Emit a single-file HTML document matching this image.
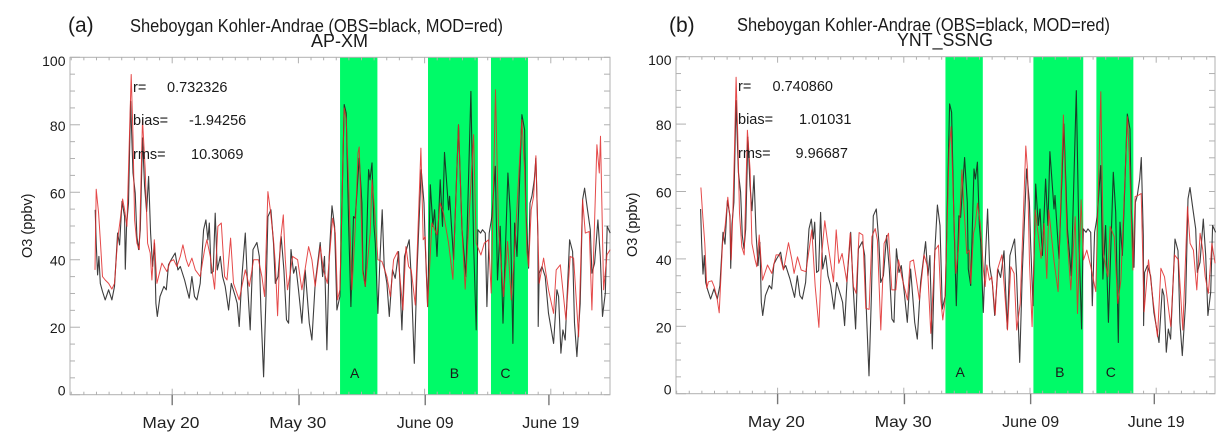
<!DOCTYPE html>
<html lang="en">
<head>
<meta charset="utf-8">
<title>Sheboygan Kohler-Andrae ozone comparison</title>
<style>
html,body{margin:0;padding:0;background:#fff;}
#figure{display:block;width:1228px;height:444px;font-family:"Liberation Sans",sans-serif;fill:#1a1a1a;filter:blur(0.3px);}
.date{font-size:16px;fill:#222;}
</style>
</head>
<body>
<svg id="figure" xmlns="http://www.w3.org/2000/svg" width="1228" height="444" viewBox="0 0 1228 444">
  <rect x="0" y="0" width="1228" height="444" fill="#ffffff"/>
  <g id="panel-a"></g>
  <g id="panel-b"></g>

  <text x="68" y="32" font-size="21">(a)</text>
  <text x="130" y="32" font-size="18" textLength="373" lengthAdjust="spacingAndGlyphs">Sheboygan Kohler-Andrae (OBS=black, MOD=red)</text>
  <text x="311" y="47" font-size="18" textLength="57" lengthAdjust="spacingAndGlyphs">AP-XM</text>
  <text transform="translate(32,258) rotate(-90)" font-size="14.5">O3 (ppbv)</text>
  <text x="133" y="92" font-size="14.5">r=</text>
  <text x="167" y="92" font-size="14.5">0.732326</text>
  <text x="133" y="125" font-size="14.5">bias=</text>
  <text x="189" y="125" font-size="14.5">-1.94256</text>
  <text x="133" y="159" font-size="14.5">rms=</text>
  <text x="191" y="159" font-size="14.5">10.3069</text>

  <text x="669" y="32" font-size="21">(b)</text>
  <text x="737" y="31" font-size="18" textLength="373" lengthAdjust="spacingAndGlyphs">Sheboygan Kohler-Andrae (OBS=black, MOD=red)</text>
  <text x="897" y="46" font-size="18" textLength="96" lengthAdjust="spacingAndGlyphs">YNT_SSNG</text>
  <text transform="translate(637,257) rotate(-90)" font-size="14.5">O3 (ppbv)</text>
  <text x="738" y="91" font-size="14.5">r=</text>
  <text x="772.5" y="91" font-size="14.5">0.740860</text>
  <text x="738" y="124" font-size="14.5">bias=</text>
  <text x="799" y="124" font-size="14.5">1.01031</text>
  <text x="738" y="158" font-size="14.5">rms=</text>
  <text x="795.5" y="158" font-size="14.5">9.96687</text>
</svg>
<script>
// Days are counted from May 20.
const yTickValues = [0, 20, 40, 60, 80, 100];
const dateTickDays = [0, 10.05, 20.05, 29.85];
const dateLabelDays = [-0.1, 9.95, 20.05, 30];
const dateLabels = ['May 20', 'May 30', 'June 09', 'June 19'];
const bandNames = ['A', 'B', 'C'];
const bandStartDays = [13.3, 20.27, 25.26];
const bandEndDays = [16.26, 24.22, 28.19];

const obsDays = [-6.10,-6.02,-5.91,-5.81,-5.70,-5.52,-5.31,-5.04,-4.78,-4.57,-4.33,-4.17,-3.98,-3.77,-3.72,-3.61,-3.46,-3.30,-3.11,-2.93,-2.80,-2.66,-2.53,-2.35,-2.19,-2.03,-1.87,-1.71,-1.55,-1.40,-1.29,-1.18,-0.97,-0.66,-0.47,-0.29,-0.08,0.24,0.45,0.64,0.98,1.17,1.35,1.56,1.77,1.96,2.22,2.49,2.67,2.83,2.94,3.09,3.25,3.41,3.57,3.81,3.99,4.20,4.47,4.68,5.00,5.15,5.31,5.52,5.79,5.97,6.18,6.40,6.71,6.90,7.03,7.24,7.43,7.58,7.82,8.03,8.17,8.38,8.64,8.85,9.06,9.22,9.41,9.62,9.80,10.01,10.28,10.54,10.86,11.07,11.33,11.73,11.92,12.07,12.26,12.44,12.66,12.87,13.05,13.29,13.63,13.79,13.98,14.16,14.37,14.50,14.82,15.03,15.11,15.30,15.56,15.67,15.83,15.98,16.09,16.30,16.43,16.64,16.80,17.01,17.20,17.46,17.67,17.94,18.20,18.41,18.78,18.94,19.18,19.39,19.73,19.95,20.05,20.24,20.45,20.66,20.79,20.98,21.24,21.42,21.58,21.90,21.98,22.30,22.69,22.96,23.27,23.67,23.88,24.09,24.22,24.44,24.59,24.81,24.94,25.12,25.33,25.60,25.78,25.99,26.21,26.60,26.79,27.00,27.13,27.32,27.71,27.92,28.03,28.24,28.35,28.50,28.69,28.82,28.98,29.00,29.08,29.30,29.56,29.82,30.22,30.48,30.62,30.80,30.96,31.14,31.49,31.73,31.88,32.07,32.33,32.52,32.68,32.91,33.13,33.26,33.47,33.73,33.92,34.10,34.32,34.47,34.71];
const obsValues = [54.8,44.9,35.5,41.0,33.0,30.6,28.1,31.1,28.1,32.1,47.9,44.4,57.3,52.8,37.2,50.4,56.8,87.0,65.7,59.8,46.9,43.0,48.9,76.1,61.7,54.3,64.7,47.9,38.0,44.9,27.1,23.2,29.1,32.1,31.1,38.5,40.0,42.0,37.0,38.0,34.0,31.1,28.6,35.0,29.1,28.1,33.0,48.9,51.8,45.9,50.9,36.0,36.5,53.8,37.0,41.0,35.0,32.1,25.1,33.0,29.1,27.1,20.2,35.0,47.9,33.0,19.2,43.0,45.1,41.0,25.1,5.3,29.1,52.8,54.8,44.9,33.0,35.0,46.9,37.0,22.2,21.2,43.0,36.0,38.0,31.1,21.2,37.0,21.2,16.2,33.0,45.1,35.0,41.0,13.3,41.0,56.0,49.9,25.1,29.1,86.0,83.5,50.9,26.1,52.8,52.3,70.1,56.8,37.0,32.1,66.7,63.7,68.7,50.4,44.9,24.1,37.0,54.8,38.0,33.0,23.2,37.0,34.5,42.4,19.2,41.0,45.9,35.0,9.3,36.0,66.7,56.8,44.9,26.1,62.2,49.9,54.8,41.0,63.7,49.9,71.8,54.8,58.8,40.0,80.0,48.9,35.0,89.9,44.9,19.2,48.9,47.9,48.9,47.9,26.1,47.9,52.8,67.7,34.0,49.9,21.2,65.7,53.8,15.2,50.9,41.0,83.0,78.5,54.8,37.5,56.8,58.8,63.7,70.1,46.9,20.2,36.0,38.0,35.0,24.1,15.2,31.1,29.1,12.3,19.2,16.2,45.9,42.4,21.2,11.3,27.1,57.8,61.2,54.8,48.9,36.0,39.0,51.8,41.0,23.2,30.1,49.9,47.9];

const modADays = [-6.12,-6.02,-5.83,-5.70,-5.52,-5.31,-5.04,-4.78,-4.57,-4.33,-4.12,-3.93,-3.77,-3.59,-3.46,-3.25,-3.11,-2.98,-2.80,-2.61,-2.35,-2.14,-1.95,-1.74,-1.61,-1.42,-1.21,-0.82,-0.42,-0.15,0.11,0.37,0.64,0.85,1.11,1.30,1.56,1.83,2.22,2.57,2.75,3.02,3.36,3.62,3.89,4.15,4.34,4.63,4.86,5.31,5.52,5.79,6.11,6.45,6.84,7.11,7.32,7.58,7.77,8.03,8.17,8.35,8.56,8.80,8.96,9.14,9.35,9.54,9.94,10.28,10.81,11.07,11.33,11.73,11.99,12.29,12.71,12.92,13.10,13.29,13.63,13.79,13.98,14.24,14.50,14.72,14.82,14.98,15.11,15.30,15.69,15.83,16.04,16.30,16.62,17.01,17.28,17.54,17.86,18.28,18.52,18.73,18.94,19.26,19.71,19.89,20.05,20.24,20.58,20.98,21.24,21.50,21.90,22.24,22.69,22.96,23.22,23.88,24.09,24.46,24.73,25.07,25.28,25.62,25.86,26.26,26.58,26.87,27.10,27.71,27.92,28.11,28.24,28.45,28.64,28.82,29.08,29.43,29.82,30.22,30.43,30.75,31.20,31.54,31.81,32.20,32.52,32.73,33.05,33.26,33.65,33.84,33.94,34.18,34.45,34.71];
const modAValues = [37.0,60.9,53.8,45.9,35.0,34.0,33.0,31.3,33.0,45.9,51.8,58.0,54.8,49.9,66.7,94.9,76.6,51.8,44.9,43.0,81.5,66.7,44.9,42.0,34.0,45.9,33.0,39.0,36.5,39.5,40.0,38.0,41.0,44.4,40.0,38.0,40.5,37.0,35.0,43.0,45.9,41.0,31.3,49.9,50.9,35.0,34.0,46.4,33.0,28.1,32.1,37.0,32.1,40.0,40.0,35.0,29.1,60.2,54.8,45.9,39.0,23.4,44.9,53.3,40.0,31.1,36.0,41.0,40.0,31.1,43.9,40.0,32.1,43.9,37.0,33.0,52.3,47.9,28.1,31.1,85.0,81.5,62.7,31.1,48.9,71.6,73.4,53.8,36.0,32.1,47.9,63.7,54.8,40.0,39.5,35.0,29.1,40.0,42.4,25.1,43.9,38.0,37.0,26.6,73.1,45.9,46.9,26.1,50.9,47.4,56.8,53.8,44.9,34.2,80.0,48.9,31.3,77.1,44.9,41.4,44.9,45.9,30.1,90.4,48.9,29.1,45.4,28.1,41.0,81.5,66.7,42.4,38.0,54.8,58.8,70.8,33.0,40.5,31.1,24.1,37.0,38.5,22.2,41.0,40.5,17.2,57.8,47.9,48.4,25.1,74.1,65.7,76.6,31.1,41.5,43.0];

const modBDays = [-6.08,-5.93,-5.77,-5.61,-5.48,-5.21,-5.03,-4.82,-4.63,-4.37,-4.16,-3.95,-3.79,-3.68,-3.55,-3.42,-3.29,-3.15,-3.02,-2.84,-2.65,-2.39,-2.18,-2.04,-1.78,-1.65,-1.46,-1.20,-0.80,-0.46,-0.12,0.15,0.47,0.86,1.13,1.31,1.58,1.87,2.24,2.53,2.71,2.98,3.27,3.50,3.74,3.98,4.43,4.64,4.85,5.11,5.48,5.75,6.01,6.22,6.46,6.75,6.99,7.25,7.47,7.73,7.91,8.18,8.44,8.79,9.05,9.37,9.58,9.84,10.29,10.50,10.77,11.24,11.61,11.88,12.14,12.48,12.75,12.93,13.09,13.25,13.41,13.59,13.75,13.94,14.12,14.33,14.60,14.78,14.99,15.20,15.31,15.52,15.65,15.84,16.05,16.18,16.31,16.45,16.58,16.79,16.97,17.24,17.42,17.77,18.22,18.48,18.74,18.95,19.22,19.67,19.80,19.96,20.17,20.41,20.88,21.12,21.33,21.49,21.91,22.23,22.65,22.92,23.23,23.58,23.76,24.05,24.24,24.50,24.82,25.21,25.61,25.82,26.17,26.35,26.67,26.96,27.20,27.72,27.88,28.15,28.33,28.60,28.81,29.04,29.39,29.78,30.10,30.37,30.66,31.16,31.45,31.77,32.11,32.48,32.69,32.95,33.22,33.48,33.69,33.88,34.14,34.41,34.67];
const modBValues = [61.2,52.5,44.6,31.3,33.2,33.5,31.8,28.8,24.0,44.6,49.6,58.3,52.5,39.7,53.5,71.3,93.9,76.3,53.5,43.6,41.2,78.2,66.4,44.6,39.7,37.7,47.1,33.7,38.2,35.7,41.2,41.2,36.7,44.8,39.7,35.7,40.6,36.7,36.2,43.6,48.6,31.8,19.7,41.6,51.3,44.6,33.2,48.6,38.7,41.6,33.2,47.6,31.8,29.8,47.8,47.1,25.3,25.0,46.6,49.0,45.6,18.9,44.6,47.6,30.8,30.8,39.7,34.7,27.8,39.2,39.7,27.8,41.2,37.7,17.9,42.6,44.1,27.8,21.9,26.8,46.6,72.3,79.2,56.5,35.7,42.6,66.4,54.5,41.6,42.6,32.7,47.6,49.6,56.5,50.5,44.6,36.7,31.8,38.2,33.7,34.7,23.4,36.7,41.2,18.9,37.7,35.7,18.9,26.8,73.5,66.4,38.7,19.9,54.5,40.2,50.5,34.2,54.5,39.2,30.3,82.7,47.6,30.8,52.5,23.8,57.5,39.7,42.6,37.7,30.3,89.6,41.6,34.7,49.6,46.6,26.8,33.7,82.2,70.3,36.7,58.5,58.9,59.4,24.3,39.7,26.8,16.9,37.2,34.7,19.9,41.2,39.7,18.9,55.5,44.6,42.6,30.8,47.6,42.6,34.7,29.8,44.6,38.7];

const SVG_NS = 'http://www.w3.org/2000/svg';
function mk(tag, parent, attrs) {
  const node = document.createElementNS(SVG_NS, tag);
  for (const key in attrs) node.setAttribute(key, attrs[key]);
  parent.appendChild(node);
  return node;
}

function drawPanel(id, geom, modDays, modValues) {
  const root = document.getElementById(id);
  const xScale = d => geom.x0 + geom.pxPerDay * d;
  const yScale = v => geom.bottom - (geom.bottom - geom.top) * v / 100;
  const axisColor = '#b0b0b0';

  // highlighted periods
  bandNames.forEach((name, i) => {
    const x1 = xScale(bandStartDays[i]);
    const x2 = xScale(bandEndDays[i]);
    const band = mk('rect', root, {x: x1, y: geom.top, width: x2 - x1, height: geom.bottom - geom.top, fill: '#00fa68'});
    
    
    const label = mk('text', root, {x: (x1 + x2) / 2 + geom.bandLabelShift[i], y: geom.bottom - 16.5, 'font-size': 14, 'text-anchor': 'middle'});
    label.textContent = name;
    
    
  });

  // axis frame
  const frame = mk('rect', root, {x: geom.left, y: geom.top, width: geom.right - geom.left, height: geom.bottom - geom.top, fill: 'none', stroke: axisColor, 'stroke-width': 1});
  
  

  // y ticks every 5 ppbv on both sides
  for (let v = 0; v <= 100; v += 5) {
    const y = yScale(v);
    const isMajor = v % 20 === 0;
    const leftTick = mk('line', root, {x1: geom.left, x2: geom.left + (isMajor ? 10 : 5), y1: y, y2: y, stroke: axisColor, 'stroke-width': 1});
    
    
    const rightTick = mk('line', root, {x1: geom.right - 6, x2: geom.right, y1: y, y2: y, stroke: axisColor, 'stroke-width': 1});
    
    
  }

  // day ticks on top and bottom axes
  for (let d = -8; d <= 34; d += 1) {
    const x = xScale(d);
    if (x < geom.left || x > geom.right) continue;
    const isMajor = d % 10 === 0;
    const bottomTick = mk('line', root, {x1: x, x2: x, y1: geom.bottom - (isMajor ? 6 : 3), y2: geom.bottom, stroke: axisColor, 'stroke-width': 1});
    
    
    const topTick = mk('line', root, {x1: x, x2: x, y1: geom.top, y2: geom.top + (isMajor ? 6 : 3), stroke: axisColor, 'stroke-width': 1});
    
    
  }

  // y tick labels
  yTickValues.forEach(v => {
    const shift = v === 0 ? 1 : (v === 100 ? 8.5 : 6);
    const label = mk('text', root, {x: geom.left - 4.5, y: yScale(v) + shift, 'font-size': 14, 'text-anchor': 'end'});
    label.textContent = String(v);
    
    
  });

  // date ticks and labels
  dateLabels.forEach((text, i) => {
    const x = xScale(dateTickDays[i]);
    const tick = mk('line', root, {x1: x, x2: x, y1: geom.bottom, y2: geom.bottom + 10.5, stroke: '#777', 'stroke-width': 1.4});
    
    
    const label = mk('text', root, {x: xScale(dateLabelDays[i]) - 28.5, y: geom.dateBaseline, 'class': 'date', textLength: 57, lengthAdjust: 'spacingAndGlyphs'});
    label.textContent = text;
    
    
  });

  // series
  const buildPath = (days, values) => days.map((d, i) => (i ? 'L' : 'M') + xScale(d).toFixed(1) + ' ' + yScale(values[i]).toFixed(1)).join('');
  const obs = mk('path', root, {d: buildPath(obsDays, obsValues), fill: 'none', stroke: '#1c1c1c', 'stroke-width': 1.1, 'stroke-opacity': 0.85, 'stroke-linejoin': 'round'});
  
  
  const mod = mk('path', root, {d: buildPath(modDays, modValues), fill: 'none', stroke: '#e02a2a', 'stroke-width': 1, 'stroke-opacity': 0.85, 'stroke-linejoin': 'round'});
  
  
}

drawPanel('panel-a', {left: 70, right: 610, top: 57.3, bottom: 394.7, x0: 172.2, pxPerDay: 12.62, dateBaseline: 428, bandLabelShift: [-4, 1.5, -4]}, modADays, modAValues);
drawPanel('panel-b', {left: 676, right: 1215, top: 56.7, bottom: 393.7, x0: 777.6, pxPerDay: 12.62, dateBaseline: 427, bandLabelShift: [-4, 1.5, -4]}, modBDays, modBValues);
</script>
</body>
</html>
